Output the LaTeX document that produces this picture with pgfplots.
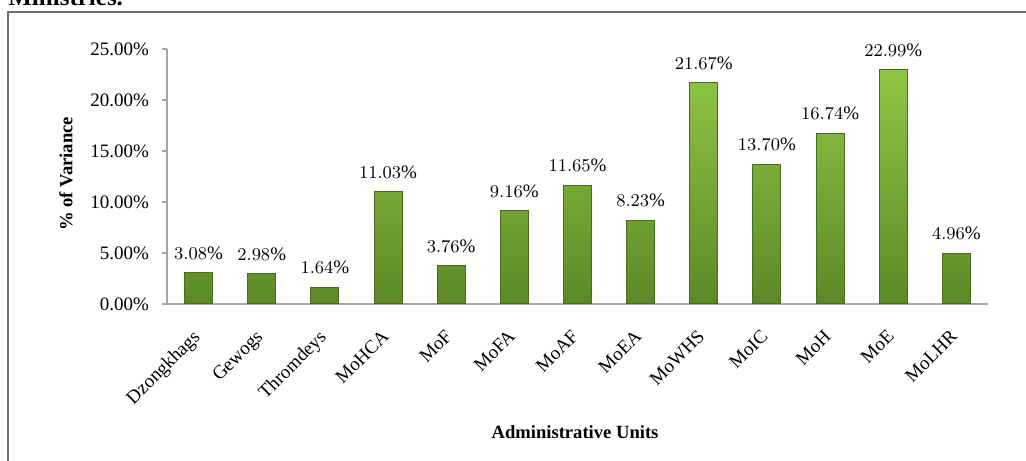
\documentclass[border=0pt]{standalone}
\usepackage{pgfplots}
\pgfplotsset{compat=1.18}
\usepackage{fontspec}
\setmainfont{Liberation Serif}
\definecolor{bartop}{HTML}{8FC643}
\definecolor{barbot}{HTML}{5C8927}
\definecolor{baredge}{HTML}{4A6B1E}
\definecolor{axgray}{HTML}{A6A6A6}
\definecolor{framegray}{HTML}{6E6E6E}

\begin{document}
\begin{tikzpicture}[x=0.5pt,y=0.5pt]
\useasboundingbox (0,0) rectangle (1026,460);
\draw[framegray, line width=0.8pt] (8,-10) -- (8,448) -- (1040,448);
\node[anchor=base west, inner sep=0pt, font=\bfseries\fontsize{12.5}{14}\selectfont] at (8,454) {Ministries.};
\begin{axis}[
  at={(83.5pt,78pt)}, anchor=south west,
  scale only axis, width=410.5pt, height=127.5pt,
  xmin=-0.5, xmax=12.5, ymin=0, ymax=25,
  axis x line*=bottom, axis y line*=left,
  axis line style={axgray, line width=0.6pt},
  tick align=outside,
  ytick={0,5,10,15,20,25},
  yticklabels={0.00\%,5.00\%,10.00\%,15.00\%,20.00\%,25.00\%},
  ytick style={axgray, line width=0.6pt},
  major tick length=2.5pt,
  xtick={0,...,12},
  xticklabels={Dzongkhags,Gewogs,Thromdeys,MoHCA,MoF,MoFA,MoAF,MoEA,MoWHS,MoIC,MoH,MoE,MoLHR},
  xtick style={draw=none},
  minor xtick={-0.5,0.5,...,12.5},
  minor x tick style={axgray, line width=0.6pt},
  minor tick length=2.5pt,
  ticklabel style={font=\fontsize{9.5}{11}\selectfont},
  xticklabel style={rotate=45, anchor=north east, yshift=-1pt, xshift=-6pt},
  yticklabel style={xshift=-3pt},
  ylabel={\% of Variance},
  ylabel style={at={(axis description cs:-0.123,0.51)}, anchor=center, font=\bfseries\fontsize{9.3}{11}\selectfont},
  xlabel={Administrative Units},
  xlabel style={at={(axis description cs:0.497,-0.502)}, anchor=center, font=\bfseries\fontsize{9.3}{11}\selectfont},
  ybar, bar width=14pt,
  nodes near coords={\pgfmathprintnumber[fixed,fixed zerofill,precision=2]{\pgfplotspointmeta}\%},
  nodes near coords style={font=\fontsize{9.5}{11}\selectfont, anchor=south, yshift=3pt},
  clip=false,
]
\addplot[draw=baredge, line width=0.5pt, top color=bartop, bottom color=barbot] coordinates {
(0,3.08) (1,2.98) (2,1.64) (3,11.03) (4,3.76) (5,9.16) (6,11.65)
(7,8.23) (8,21.67) (9,13.70) (10,16.74) (11,22.99) (12,4.96)
};
\end{axis}
\end{tikzpicture}
\end{document}
